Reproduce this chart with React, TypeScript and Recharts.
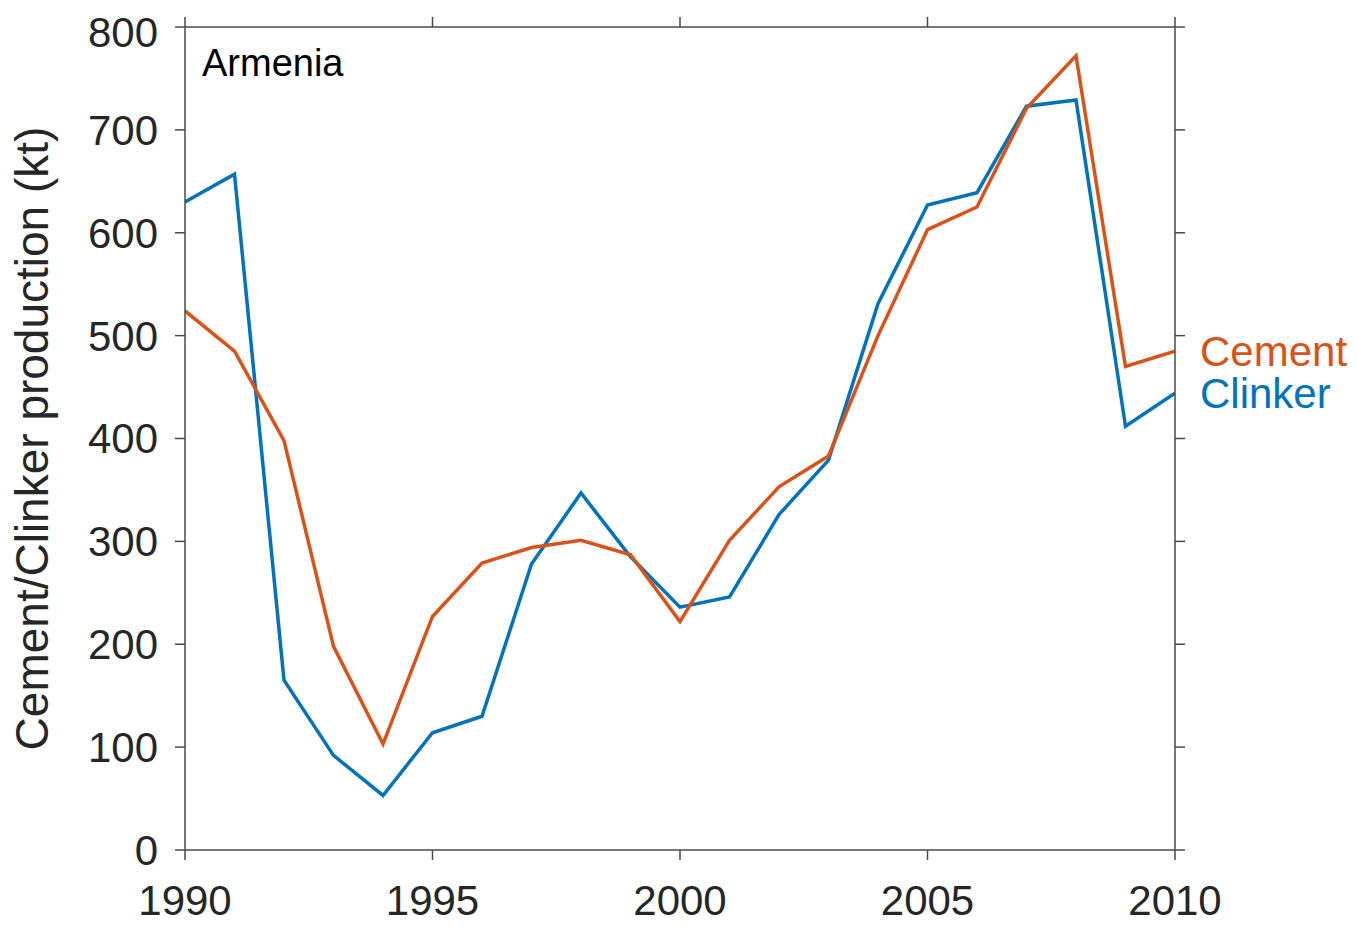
import { LineChart, Line, XAxis, YAxis } from "recharts";

const years = [
  1990, 1991, 1992, 1993, 1994, 1995, 1996, 1997, 1998, 1999, 2000,
  2001, 2002, 2003, 2004, 2005, 2006, 2007, 2008, 2009, 2010,
];
const clinker = [
  630, 657, 165, 92, 53, 114, 130, 278, 347, 285, 236,
  246, 326, 379, 531, 627, 639, 723, 729, 412, 444,
];
const cement = [
  524, 485, 398, 198, 103, 227, 279, 294, 301, 287, 222,
  301, 353, 383, 500, 603, 625, 721, 772, 470, 485,
];
const xTicks = [1990, 1995, 2000, 2005, 2010];
const yTicks = [0, 100, 200, 300, 400, 500, 600, 700, 800];

const CEMENT = "#D95319";
const CLINKER = "#0072BD";
const AXIS = "#4a4a4a";
const FONT = "'Liberation Sans', Arial, Helvetica, sans-serif";

const tickStyle = { fill: "#262626", fontSize: 42, fontFamily: FONT };
// keeps the tick marks, drops the numbers (top and right axes)
const noText = () => <g />;

const chartData = years.map((y, i) => ({ year: y, clinker: clinker[i], cement: cement[i] }));

// name next to the last point of each line
const endLabel = (name: string, color: string) => (props: any) => {
  const { x, y, index } = props;
  if (index !== years.length - 1) return <g />;
  return (
    <text x={x + 25} y={y} fill={color} fontSize={42} fontFamily={FONT} dominantBaseline="central">
      {name}
    </text>
  );
};

const yLabel = (props: any) => {
  const { viewBox } = props;
  const cx = viewBox.x + 24;
  const cy = viewBox.y + viewBox.height / 2;
  return (
    <text
      x={cx}
      y={cy}
      transform={`rotate(-90 ${cx} ${cy})`}
      textAnchor="middle"
      dominantBaseline="central"
      fill="#262626"
      fontSize={46}
      fontFamily={FONT}
    >
      Cement/Clinker production (kt)
    </text>
  );
};

export default function App() {
  return (
    <div style={{ position: "relative", width: 1349, height: 919 }}>
      <LineChart
        width={1349}
        height={919}
        data={chartData}
        margin={{ top: 9, right: 172, bottom: 17, left: 0 }}
      >
        <XAxis
          dataKey="year"
          type="number"
          domain={[1990, 2010]}
          ticks={xTicks}
          allowDataOverflow
          height={60}
          tickSize={10}
          tickMargin={25}
          stroke={AXIS}
          strokeWidth={1.5}
          tick={tickStyle}
        />
        <XAxis
          xAxisId="top"
          orientation="top"
          dataKey="year"
          type="number"
          domain={[1990, 2010]}
          ticks={xTicks}
          allowDataOverflow
          height={10}
          tickSize={10}
          stroke={AXIS}
          strokeWidth={1.5}
          tick={noText}
        />
        <YAxis
          type="number"
          domain={[0, 800]}
          ticks={yTicks}
          allowDataOverflow
          width={177}
          tickSize={10}
          tickMargin={17}
          stroke={AXIS}
          strokeWidth={1.5}
          tick={tickStyle}
          label={{ content: yLabel }}
        />
        <YAxis
          yAxisId="right"
          orientation="right"
          type="number"
          domain={[0, 800]}
          ticks={yTicks}
          allowDataOverflow
          width={10}
          tickSize={10}
          stroke={AXIS}
          strokeWidth={1.5}
          tick={noText}
        />
        <Line
          dataKey="clinker"
          stroke={CLINKER}
          strokeWidth={3.5}
          dot={false}
          isAnimationActive={false}
          strokeLinejoin="miter"
          label={endLabel("Clinker", CLINKER)}
        />
        <Line
          dataKey="cement"
          stroke={CEMENT}
          strokeWidth={3.5}
          dot={false}
          isAnimationActive={false}
          strokeLinejoin="miter"
          label={endLabel("Cement", CEMENT)}
        />
      </LineChart>
      <div
        style={{
          position: "absolute",
          left: 194,
          top: 36,
          fontSize: 38,
          lineHeight: "38px",
          fontFamily: FONT,
          color: "#000",
        }}
      >
        Armenia
      </div>
    </div>
  );
}
